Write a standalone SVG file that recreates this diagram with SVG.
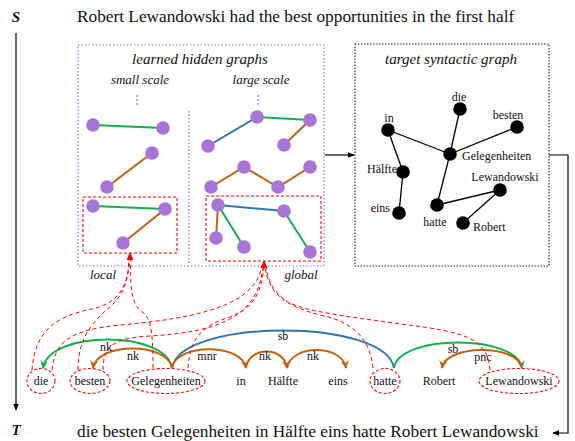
<svg xmlns="http://www.w3.org/2000/svg" width="575" height="441" viewBox="0 0 575 441">
<style>
text{font-family:"Liberation Serif","Times New Roman",serif;fill:#111}
.it{font-style:italic}
.big{font-size:17.3px}
.w{font-size:12px;text-anchor:middle}
.lab{font-size:12px;text-anchor:middle}
.tl{font-size:12px}
.pbox{fill:none;stroke:#9b6ad0;stroke-width:1.2;stroke-dasharray:1.5,2}
.kbox{fill:none;stroke:#222;stroke-width:1.1;stroke-dasharray:1.5,1.5}
.rbox{fill:none;stroke:#f00;stroke-width:1.1;stroke-dasharray:3,2}
.rd{fill:none;stroke:#f00;stroke-width:1;stroke-dasharray:4,3}
.pn{fill:#a874d8}
.bn{fill:#000}
.ge{stroke:#12b04c;stroke-width:2;fill:none}
.oe{stroke:#c5600f;stroke-width:2;fill:none}
.be{stroke:#2e75b6;stroke-width:2;fill:none}
.ke{stroke:#000;stroke-width:1.3;fill:none}
.arcg{stroke:#12b04c;stroke-width:2;fill:none}
.arco{stroke:#c5600f;stroke-width:2;fill:none}
.arcb{stroke:#2e75b6;stroke-width:2;fill:none}
.blk{stroke:#000;stroke-width:1.2;fill:none}
</style>
<defs>
<marker id="mo" viewBox="0 0 10 10" refX="9" refY="5" markerWidth="4" markerHeight="4" orient="auto" markerUnits="strokeWidth"><path d="M0,0 L10,5 L0,10 L3,5 z" fill="#c5600f"/></marker>
<marker id="mg" viewBox="0 0 10 10" refX="9" refY="5" markerWidth="4" markerHeight="4" orient="auto" markerUnits="strokeWidth"><path d="M0,0 L10,5 L0,10 L3,5 z" fill="#12b04c"/></marker>
<marker id="mk" viewBox="0 0 10 10" refX="9" refY="5" markerWidth="6" markerHeight="6" orient="auto" markerUnits="strokeWidth"><path d="M0,1 L10,5 L0,9 z" fill="#000"/></marker>
</defs>

<!-- headers -->
<g id="S"><text x="16" y="22" class="it" font-weight="bold" font-size="15" text-anchor="middle">S</text></g>
<g id="T"><text x="16" y="435" class="it" font-weight="bold" font-size="15" text-anchor="middle">T</text></g>
<g id="source"><text x="77" y="22" class="big">Robert Lewandowski had the best opportunities in the first half</text></g>
<g id="target"><text x="77" y="437" class="big">die besten Gelegenheiten in Hälfte eins hatte Robert Lewandowski</text></g>

<!-- hidden graphs panel -->
<g id="hidden-graphs">
<rect class="pbox" x="78" y="45" width="246" height="221"/>
<line class="pbox" x1="189" y1="111" x2="189" y2="264"/>
<text x="200" y="64" class="it" font-size="15" text-anchor="middle">learned hidden graphs</text>
<text x="140" y="84" class="it" font-size="13" text-anchor="middle">small scale</text>
<text x="261" y="84" class="it" font-size="13" text-anchor="middle">large scale</text>
<circle cx="137" cy="96" r="0.7" fill="#333"/><circle cx="137" cy="100" r="0.7" fill="#333"/><circle cx="137" cy="104" r="0.7" fill="#333"/>
<circle cx="258" cy="96" r="0.7" fill="#333"/><circle cx="258" cy="100" r="0.7" fill="#333"/><circle cx="258" cy="104" r="0.7" fill="#333"/>
<!-- small scale -->
<line class="ge" x1="93" y1="125" x2="163" y2="128"/>
<line class="oe" x1="152" y1="153" x2="107" y2="187"/>
<line class="ge" x1="93" y1="206" x2="165" y2="209"/>
<line class="oe" x1="165" y1="209" x2="123" y2="243"/>
<circle class="pn" cx="93" cy="125" r="6.8"/><circle class="pn" cx="163" cy="128" r="6.8"/>
<circle class="pn" cx="152" cy="153" r="6.8"/><circle class="pn" cx="107" cy="187" r="6.8"/>
<circle class="pn" cx="93" cy="206" r="6.8"/><circle class="pn" cx="165" cy="209" r="6.8"/><circle class="pn" cx="123" cy="243" r="6.8"/>
<rect class="rbox" x="83" y="197" width="94" height="56"/>
<!-- large scale -->
<line class="be" x1="208" y1="146" x2="257" y2="117"/>
<line class="ge" x1="257" y1="117" x2="310" y2="120"/>
<line class="oe" x1="310" y1="120" x2="284" y2="145"/>
<polyline class="oe" points="211,187 244,167 278,187 310,167"/>
<line class="be" x1="218" y1="205" x2="284" y2="211"/>
<line class="oe" x1="218" y1="205" x2="216" y2="238"/>
<line class="ge" x1="218" y1="205" x2="244" y2="247"/>
<line class="ge" x1="284" y1="211" x2="310" y2="252"/>
<circle class="pn" cx="208" cy="146" r="6.8"/><circle class="pn" cx="257" cy="117" r="6.8"/><circle class="pn" cx="310" cy="120" r="6.8"/><circle class="pn" cx="284" cy="145" r="6.8"/>
<circle class="pn" cx="211" cy="187" r="6.8"/><circle class="pn" cx="244" cy="167" r="6.8"/><circle class="pn" cx="278" cy="187" r="6.8"/><circle class="pn" cx="310" cy="167" r="6.8"/>
<circle class="pn" cx="218" cy="205" r="6.8"/><circle class="pn" cx="284" cy="211" r="6.8"/><circle class="pn" cx="216" cy="238" r="6.8"/><circle class="pn" cx="244" cy="247" r="6.8"/><circle class="pn" cx="310" cy="252" r="6.8"/>
<rect class="rbox" x="206" y="196" width="115" height="65"/>
<text x="103" y="279" class="it" font-size="13" text-anchor="middle">local</text>
<text x="301" y="279" class="it" font-size="13" text-anchor="middle">global</text>
</g>

<!-- target syntactic graph panel -->
<g id="target-graph">
<rect class="kbox" x="355" y="44" width="194" height="222"/>
<text x="451" y="64" class="it" font-size="15" text-anchor="middle">target syntactic graph</text>
<line class="ke" x1="388" y1="130" x2="450" y2="154"/>
<line class="ke" x1="388" y1="130" x2="403" y2="172"/>
<line class="ke" x1="403" y1="172" x2="399" y2="213"/>
<line class="ke" x1="460" y1="109" x2="450" y2="154"/>
<line class="ke" x1="517" y1="127" x2="450" y2="154"/>
<line class="ke" x1="450" y1="154" x2="437" y2="205"/>
<line class="ke" x1="437" y1="205" x2="500" y2="190"/>
<line class="ke" x1="500" y1="190" x2="463" y2="223"/>
<g id="n-in"><circle class="bn" cx="388" cy="130" r="6.8"/><text x="389" y="122" class="tl" text-anchor="middle">in</text></g>
<g id="n-die"><circle class="bn" cx="460" cy="109" r="6.8"/><text x="459" y="101" class="tl" text-anchor="middle">die</text></g>
<g id="n-besten"><circle class="bn" cx="517" cy="127" r="6.8"/><text x="508" y="119" class="tl" text-anchor="middle">besten</text></g>
<g id="n-gel"><circle class="bn" cx="450" cy="154" r="6.8"/><text x="462" y="160" class="tl">Gelegenheiten</text></g>
<g id="n-haelfte"><circle class="bn" cx="403" cy="172" r="6.8"/><text x="397" y="173" class="tl" text-anchor="end">Hälfte</text></g>
<g id="n-eins"><circle class="bn" cx="399" cy="213" r="6.8"/><text x="390" y="212" class="tl" text-anchor="end">eins</text></g>
<g id="n-hatte"><circle class="bn" cx="437" cy="205" r="6.8"/><text x="435" y="226" class="tl" text-anchor="middle">hatte</text></g>
<g id="n-lew"><circle class="bn" cx="500" cy="190" r="6.8"/><text x="505" y="181" class="tl" text-anchor="middle">Lewandowski</text></g>
<g id="n-rob"><circle class="bn" cx="463" cy="223" r="6.8"/><text x="473" y="231" class="tl">Robert</text></g>
</g>

<!-- words -->
<g id="w-die"><ellipse class="rbox" cx="41" cy="381" rx="14" ry="12.5"/><text x="41" y="385" class="w">die</text></g>
<g id="w-besten"><ellipse class="rbox" cx="90" cy="381" rx="20" ry="12.5"/><text x="90" y="385" class="w">besten</text></g>
<g id="w-gel"><ellipse class="rbox" cx="166" cy="381" rx="39" ry="12.5"/><text x="166" y="385" class="w">Gelegenheiten</text></g>
<g id="w-in"><text x="241" y="385" class="w">in</text></g>
<g id="w-haelfte"><text x="283" y="385" class="w">Hälfte</text></g>
<g id="w-eins"><text x="338" y="385" class="w">eins</text></g>
<g id="w-hatte"><ellipse class="rbox" cx="385" cy="381" rx="15" ry="12.5"/><text x="385" y="385" class="w">hatte</text></g>
<g id="w-robert"><text x="439" y="385" class="w">Robert</text></g>
<g id="w-lew"><ellipse class="rbox" cx="519" cy="381" rx="40" ry="12.5"/><text x="519" y="385" class="w">Lewandowski</text></g>

<!-- connectors -->
<g id="connectors">
<line class="blk" x1="16" y1="33" x2="16" y2="410" marker-end="url(#mk)"/>
<line class="blk" x1="325" y1="155" x2="354" y2="155" marker-end="url(#mk)"/>
<path class="blk" d="M549,155 H568 V433 H553" marker-end="url(#mk)"/>

<!-- dependency arcs -->
<path class="arcb" d="M172,368 C180,318 386,318 394,368"/>
<path class="arcg" d="M172,368 C166,330 49,330 43,368" marker-end="url(#mg)"/>
<path class="arco" d="M172,368 C168,342 97,342 93,368" marker-end="url(#mo)"/>
<path class="arco" d="M172,368 C176,343 242,343 246,368" marker-end="url(#mo)"/>
<path class="arco" d="M246,368 C249,346 284,346 287,368" marker-end="url(#mo)"/>
<path class="arco" d="M287,368 C291,344 342,344 346,368" marker-end="url(#mo)"/>
<path class="arcg" d="M394,368 C399,334 517,334 522,368" marker-end="url(#mg)"/>
<path class="arco" d="M522,368 C518,344 446,344 442,368" marker-end="url(#mo)"/>
<text x="106" y="351" class="lab">nk</text>
<text x="133" y="360" class="lab">nk</text>
<text x="283" y="340" class="lab">sb</text>
<text x="207" y="360" class="lab">mnr</text>
<text x="265" y="360" class="lab">nk</text>
<text x="313" y="360" class="lab">nk</text>
<text x="453" y="353" class="lab">sb</text>
<text x="483" y="361" class="lab">pnc</text>

<!-- red dashed mapping curves -->
<path class="rd" d="M32,370 C35,322 68,314 96,308 C120,301 128,285 130,258"/>
<path class="rd" d="M78,370 C78,335 95,320 112,305 C125,292 128,280 129,258"/>
<path class="rd" d="M153,368 C153,325 150,317 140,310 C131,302 130,285 131,258"/>
<path class="rd" d="M52,370 C55,340 72,330 120,325 C200,318 255,305 262,266"/>
<path class="rd" d="M103,370 C103,345 115,338 150,336 C220,332 259,316 263,266"/>
<path class="rd" d="M188,368 C190,340 200,326 230,317 C255,308 262,290 264,266"/>
<path class="rd" d="M373,368 C370,340 355,322 320,315 C285,306 268,293 265,266"/>
<path class="rd" d="M490,370 C488,345 475,335 430,328 C360,318 300,312 285,300 C272,290 268,280 266,266"/>
<polygon points="130,252 126.5,260 133.5,260" fill="#f00"/>
<polygon points="264,260 260.5,268 267.5,268" fill="#f00"/>
</g>
</svg>
